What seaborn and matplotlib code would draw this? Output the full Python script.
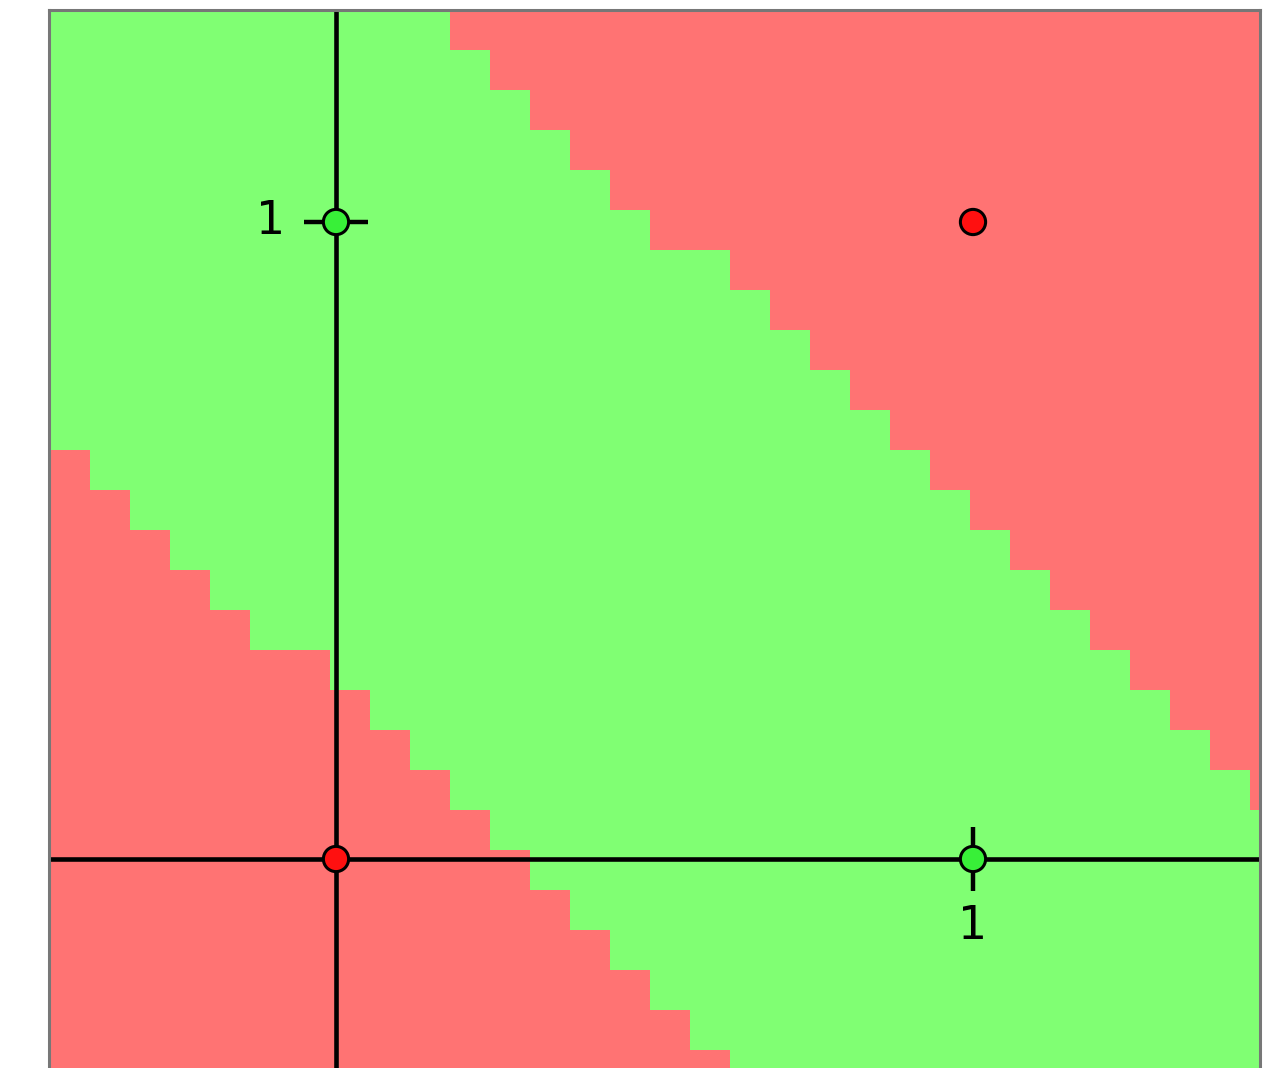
import numpy as np
import pandas as pd
import matplotlib
matplotlib.use("Agg")
import matplotlib.pyplot as plt
from matplotlib.colors import ListedColormap
import seaborn as sns

# XOR training points and their classes
pt_x = [0, 1, 0, 1]
pt_y = [0, 0, 1, 1]
pt_class = ["neg", "pos", "pos", "neg"]

# Decision map, one entry per grid row (top to bottom):
# the positive class covers columns green_start[r] .. green_end[r]-1
green_start = [0, 0, 0, 0, 0, 0, 0, 0, 0, 0, 0,
               2, 3, 4, 5, 6, 8, 9, 10, 11, 12,
               13, 14, 15, 16, 17, 18]
green_end = [11, 12, 13, 14, 15, 16, 18, 19, 20, 21, 22,
             23, 24, 25, 26, 27, 28, 29, 30, 31, 32,
             32, 32, 32, 32, 32, 32]
n_cols = 32

tick_labels = ["1", "1"]

# ---- styling -------------------------------------------------------------
sns.set_style("white")
RED_BG = "#ff7373"
GREEN_BG = "#80ff73"
RED_PT = "#ff1010"
GREEN_PT = "#38f038"

W, H = 1287, 1068
fig = plt.figure(figsize=(W / 100, H / 100), dpi=100)
ax = fig.add_axes([49 / W, 0, (1260 - 49) / W, (H - 10) / H])

unit = 637.0            # pixels per data unit
ox, oy = 336.0, 859.0   # pixel position of the origin
ax.set_xlim((49 - ox) / unit, (1260 - ox) / unit)
ax.set_ylim((oy - H) / unit, (oy - 10) / unit)

# grid of classifier cells
cell = 40.0 / unit
x0 = (10 - ox) / unit
y0 = (oy - 10) / unit
n_rows = len(green_start)
Z = np.zeros((n_rows, n_cols))
cols = np.arange(n_cols)
for r in range(n_rows):
    Z[r] = (cols >= green_start[r]) & (cols < green_end[r])
x_edges = x0 + cell * np.arange(n_cols + 1)
y_edges = y0 - cell * np.arange(n_rows + 1)
ax.pcolormesh(x_edges, y_edges, Z, cmap=ListedColormap([RED_BG, GREEN_BG]),
              vmin=0, vmax=1, shading="flat", antialiased=False, zorder=0)

# coordinate axes through the origin
ax.axhline(0, color="black", lw=3.3, zorder=2)
ax.axvline(0, color="black", lw=3.3, zorder=2)
t = 0.05
ax.plot([-t, t], [1, 1], color="black", lw=3.2, zorder=2, solid_capstyle="butt")
ax.plot([1, 1], [-t, t], color="black", lw=3.2, zorder=2, solid_capstyle="butt")
ax.text(-0.102, 1, tick_labels[1], fontsize=33, ha="center", va="center",
        color="black", zorder=3)
ax.text(1, -0.106, tick_labels[0], fontsize=33, ha="center", va="center",
        color="black", zorder=3)

df = pd.DataFrame({"x": pt_x, "y": pt_y, "cls": pt_class})
sns.scatterplot(data=df, x="x", y="y", hue="cls",
                palette={"neg": RED_PT, "pos": GREEN_PT},
                s=330, edgecolor="black", linewidth=2.2, legend=False,
                ax=ax, zorder=4, clip_on=False)

ax.set_xticks([])
ax.set_yticks([])
ax.set_xlabel("")
ax.set_ylabel("")
for side in ["left", "right", "top"]:
    ax.spines[side].set_color("#777777")
    ax.spines[side].set_linewidth(2.2)
ax.spines["bottom"].set_visible(False)

fig.savefig("out.png", dpi=100)
